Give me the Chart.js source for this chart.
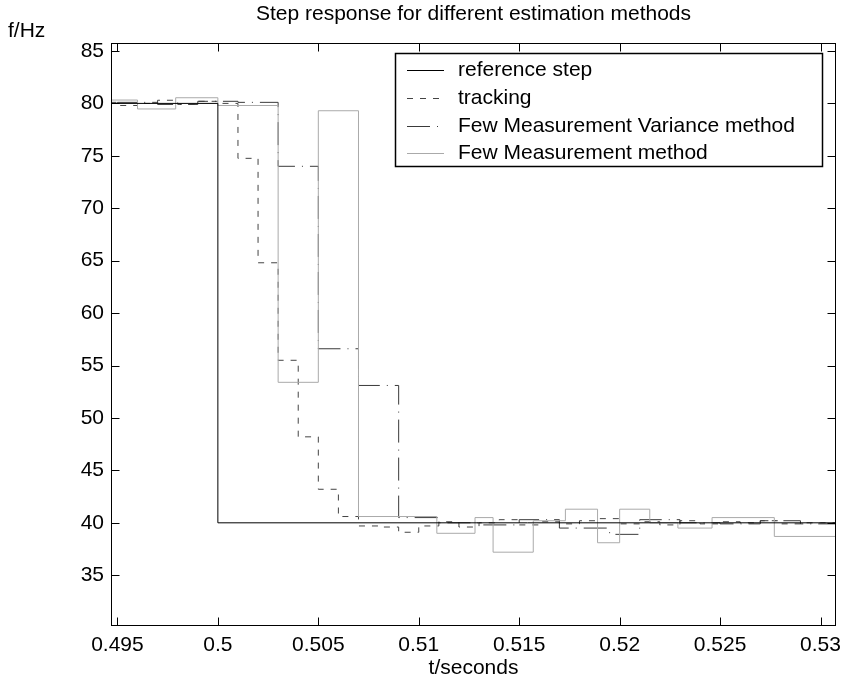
<!DOCTYPE html>
<html><head><meta charset="utf-8">
<script src="https://cdn.jsdelivr.net/npm/chart.js@4.4.1/dist/chart.umd.min.js"></script>
<style>html,body{margin:0;padding:0;background:#fff;}#wrap{width:842px;height:684px;}</style>
</head><body><div id="wrap"><canvas id="c" width="842" height="684"></canvas></div>
<script>
const titleText = 'Step response for different estimation methods';
const xLabel = 't/seconds';
const yLabel = 'f/Hz';
const xTicks = [0.495, 0.5, 0.505, 0.51, 0.515, 0.52, 0.525, 0.53];
const xTickLabels = ['0.495', '0.5', '0.505', '0.51', '0.515', '0.52', '0.525', '0.53'];
const yTicks = [35, 40, 45, 50, 55, 60, 65, 70, 75, 80, 85];
const seriesNames = ['reference step', 'tracking', 'Few Measurement Variance method', 'Few Measurement method'];

const refT = [0.494, 0.500, 0.531];
const refV = [80, 40, 40];

const trackT = [0.494, 0.495, 0.496, 0.497, 0.498, 0.499, 0.500, 0.501, 0.502, 0.503, 0.504, 0.505, 0.506, 0.507, 0.508, 0.509, 0.510, 0.511, 0.512, 0.513, 0.514, 0.515, 0.516, 0.517, 0.518, 0.519, 0.520, 0.521, 0.522, 0.523, 0.524, 0.525, 0.526, 0.527, 0.528, 0.529, 0.530, 0.531];
const trackV = [80.1, 79.8, 80.0, 80.3, 79.9, 80.2, 80.0, 74.76, 64.8, 55.5, 48.2, 43.2, 40.6, 39.7, 39.6, 39.1, 39.7, 40.1, 39.6, 40.0, 40.3, 39.8, 40.1, 39.9, 40.2, 40.4, 39.9, 40.1, 39.8, 40.2, 39.9, 40.1, 40.0, 40.2, 39.9, 40.0, 40.0, 40.0];

const fmvT = [0.493, 0.495, 0.497, 0.499, 0.501, 0.503, 0.505, 0.507, 0.509, 0.511, 0.513, 0.515, 0.517, 0.5195, 0.521, 0.523, 0.525, 0.527, 0.529, 0.531];
const fmvV = [80.0, 80.1, 79.9, 80.2, 80.1, 74.0, 56.6, 53.1, 40.5, 40.0, 39.8, 40.3, 39.5, 38.9, 40.3, 40.0, 39.9, 40.2, 39.9, 39.9];

const fmT = [0.494, 0.4960, 0.4979, 0.5000, 0.5030, 0.5050, 0.5070, 0.5109, 0.5128, 0.5137, 0.5157, 0.5173, 0.5189, 0.5200, 0.5215, 0.5229, 0.5246, 0.5277, 0.531];
const fmV = [80.32, 79.47, 80.54, 79.8, 53.4, 79.3, 40.6, 39.0, 40.5, 37.2, 40.2, 41.3, 38.1, 41.3, 40.0, 39.5, 40.5, 38.7, 38.7];

const FONT = '"Liberation Sans", Arial, Helvetica, sans-serif';

function pts(t, v) { return t.map((x, i) => ({x: x, y: v[i]})); }

const styles = [
  {color: '#000000', dash: []},
  {color: '#444444', dash: [6, 7]},
  {color: '#3a3a3a', dash: [23, 7, 1, 7]},
  {color: '#aaaaaa', dash: []}
];
const seriesData = [pts(refT, refV), pts(trackT, trackV), pts(fmvT, fmvV), pts(fmT, fmV)];

const datasets = seriesData.map((d, i) => ({
  label: seriesNames[i],
  data: d,
  borderColor: styles[i].color,
  borderDash: styles[i].dash,
  borderWidth: 1,
  pointRadius: 0,
  stepped: true,
  fill: false,
  order: i === 0 ? 0 : (4 - i)
}));

const decor = {
  id: 'decor',
  afterDraw(chart) {
    const ctx = chart.ctx;
    const a = chart.chartArea;
    const xs = chart.scales.x, ys = chart.scales.y;
    ctx.save();
    ctx.strokeStyle = '#000';
    ctx.lineWidth = 1;
    ctx.setLineDash([]);
    const L = Math.round(a.left) + 0.5, R = Math.round(a.right) - 0.5, T = Math.round(a.top) + 0.5, B = Math.round(a.bottom) - 0.5;
    ctx.strokeRect(L, T, R - L, B - T);
    ctx.beginPath();
    const tl = 8;
    xTicks.forEach(v => {
      const px = Math.round(xs.getPixelForValue(v)) + 0.5;
      ctx.moveTo(px, B); ctx.lineTo(px, B - tl);
      ctx.moveTo(px, T); ctx.lineTo(px, T + tl);
    });
    yTicks.forEach(v => {
      const py = Math.round(ys.getPixelForValue(v)) + 0.5;
      ctx.moveTo(L, py); ctx.lineTo(L + tl, py);
      ctx.moveTo(R, py); ctx.lineTo(R - tl, py);
    });
    ctx.stroke();

    ctx.fillStyle = '#000';
    ctx.textBaseline = 'middle';
    ctx.textAlign = 'center';
    ctx.font = '21px ' + FONT;
    ctx.fillText(titleText, (a.left + a.right) / 2, 14);
    ctx.fillText(xLabel, (a.left + a.right) / 2, 668);
    ctx.textAlign = 'left';
    ctx.fillText(yLabel, 8, 31);

    const bx = 395.5, by = 53.5, bw = 427, bh = 113;
    ctx.fillStyle = '#fff';
    ctx.fillRect(bx, by, bw, bh);
    ctx.strokeStyle = '#000';
    ctx.lineWidth = 1.5;
    ctx.strokeRect(bx, by, bw, bh);
    ctx.font = '21px ' + FONT;
    ctx.textAlign = 'left';
    const rowY = [70, 98, 126, 153];
    chart.data.datasets.forEach((ds, i) => {
      const y = Math.round(rowY[i]) + 0.5;
      ctx.strokeStyle = ds.borderColor;
      ctx.lineWidth = 1;
      ctx.setLineDash(ds.borderDash || []);
      ctx.beginPath();
      ctx.moveTo(407, y); ctx.lineTo(444, y);
      ctx.stroke();
      ctx.setLineDash([]);
      ctx.fillStyle = '#000';
      ctx.fillText(ds.label, 458, rowY[i]);
    });
    ctx.restore();
  }
};

new Chart(document.getElementById('c'), {
  type: 'line',
  data: {datasets: datasets},
  options: {
    responsive: false,
    animation: false,
    devicePixelRatio: 1,
    layout: {padding: {top: 43, right: 6, left: 0, bottom: 0}},
    plugins: {legend: {display: false}, title: {display: false}, tooltip: {enabled: false}},
    scales: {
      x: {
        type: 'linear', min: 0.49468, max: 0.53077,
        afterBuildTicks: s => { s.ticks = xTicks.map(v => ({value: v})); },
        afterFit: s => { s.height = 58; s.paddingLeft = 0; s.paddingRight = 0; },
        grid: {display: false, drawTicks: false},
        border: {display: false},
        ticks: {
          color: '#000', padding: 7, maxRotation: 0, autoSkip: false,
          font: {family: FONT, size: 21},
          callback: (v) => xTickLabels[xTicks.indexOf(v)] ?? ''
        }
      },
      y: {
        type: 'linear', min: 30.16, max: 85.76,
        afterBuildTicks: s => { s.ticks = yTicks.map(v => ({value: v})); },
        afterFit: s => { s.width = 111; s.paddingTop = 0; s.paddingBottom = 0; },
        grid: {display: false, drawTicks: false},
        border: {display: false},
        ticks: {
          color: '#000', padding: 7, autoSkip: false,
          font: {family: FONT, size: 21},
          callback: v => String(v)
        }
      }
    }
  },
  plugins: [decor]
});
</script>
</body></html>
